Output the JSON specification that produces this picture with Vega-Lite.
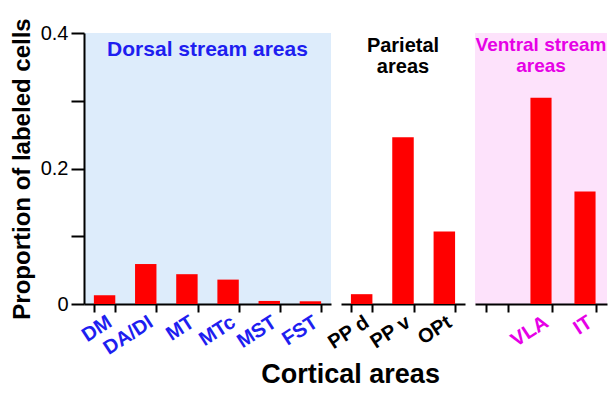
{
  "$schema": "https://vega.github.io/schema/vega-lite/v6.json",
  "background": "white",
  "padding": {"left": 10, "top": 17, "right": 5, "bottom": 0},
  "bounds": "flush",
  "title": {"text": "Cortical areas", "orient": "bottom", "anchor": "middle", "font": "Liberation Sans", "fontSize": 27, "fontWeight": "bold", "color": "black", "dx": 42, "offset": 4},
  "datasets": {
    "bars": [
      {"area": "DM", "value": 0.013, "group": "dorsal"},
      {"area": "DA/DI", "value": 0.059, "group": "dorsal"},
      {"area": "MT", "value": 0.044, "group": "dorsal"},
      {"area": "MTc", "value": 0.036, "group": "dorsal"},
      {"area": "MST", "value": 0.0045, "group": "dorsal"},
      {"area": "FST", "value": 0.004, "group": "dorsal"},
      {"area": "PP d", "value": 0.0145, "group": "parietal"},
      {"area": "PP v", "value": 0.246, "group": "parietal"},
      {"area": "OPt", "value": 0.107, "group": "parietal"},
      {"area": "VLA", "value": 0.3045, "group": "ventral"},
      {"area": "IT", "value": 0.166, "group": "ventral"}
    ]
  },
  "data": {"name": "bars"},
  "spacing": 10,
  "config": {
    "view": {"stroke": null},
    "axis": {
      "grid": false,
      "domainColor": "black",
      "tickColor": "black",
      "domainWidth": 2,
      "tickWidth": 2,
      "labelFont": "Liberation Sans",
      "titleFont": "Liberation Sans"
    },
    "text": {"font": "Liberation Sans"}
  },
  "hconcat": [
    {
      "width": 247,
      "height": 271,
      "view": {"fill": "#ddecfb", "stroke": null},
      "resolve": {"scale": {"x": "independent"}, "axis": {"x": "independent"}},
      "layer": [
        {
          "transform": [{"filter": "datum.group === 'dorsal'"}],
          "mark": {"type": "bar", "color": "#ff0000"},
          "encoding": {
            "x": {
              "field": "area", "type": "nominal",
              "scale": {"domain": ["DM", "DA/DI", "MT", "MTc", "MST", "FST"], "paddingInner": 0.48, "paddingOuter": 0.24},
              "axis": {
                "title": null,
                "labelAngle": -33, "labelAlign": "right", "labelBaseline": "middle",
                "labelFontSize": 20, "labelFontWeight": "bold", "labelColor": "#1e1ef0",
                "labelOffset": 5, "labelPadding": 8,
                "tickBand": "extent", "tickSize": 8
              }
            },
            "y": {
              "field": "value", "type": "quantitative",
              "scale": {"domain": [0, 0.4]},
              "axis": {
                "title": "Proportion of labeled cells",
                "titleFontSize": 24, "titleFontWeight": "bold", "titleColor": "black", "titlePadding": 6,
                "values": [0, 0.1, 0.2, 0.3, 0.4],
                "labelExpr": "datum.value == 0 ? '0' : (datum.value == 0.2 || datum.value == 0.4 ? format(datum.value, '.1f') : '')",
                "labelFontSize": 20, "labelColor": "black", "labelPadding": 3,
                "tickSize": 13
              }
            }
          }
        },
        {
          "data": {"values": [{"k": "dorsal", "t": "Dorsal stream areas"}]},
          "mark": {"type": "text", "align": "center", "baseline": "top", "fontSize": 21, "fontWeight": "bold", "color": "#1e1ef0"},
          "encoding": {
            "x": {"field": "k", "type": "nominal", "scale": {"type": "point"}, "axis": null},
            "text": {"field": "t"},
            "y": {"datum": 0.3905}
          }
        }
      ]
    },
    {
      "width": 124,
      "height": 271,
      "resolve": {"scale": {"x": "independent"}, "axis": {"x": "independent"}},
      "layer": [
        {
          "transform": [{"filter": "datum.group === 'parietal'"}],
          "mark": {"type": "bar", "color": "#ff0000"},
          "encoding": {
            "x": {
              "field": "area", "type": "nominal",
              "scale": {"domain": ["PP d", "PP v", "OPt"], "paddingInner": 0.48, "paddingOuter": 0.24},
              "axis": {
                "title": null,
                "labelAngle": -33, "labelAlign": "right", "labelBaseline": "middle",
                "labelFontSize": 20, "labelFontWeight": "bold", "labelColor": "black",
                "labelOffset": 5, "labelPadding": 8,
                "tickBand": "extent", "tickSize": 8
              }
            },
            "y": {"field": "value", "type": "quantitative", "scale": {"domain": [0, 0.4]}, "axis": null}
          }
        },
        {
          "data": {"values": [{"k": "parietal", "t": ["Parietal", "areas"]}]},
          "mark": {"type": "text", "align": "center", "baseline": "top", "fontSize": 20, "fontWeight": "bold", "color": "black", "lineHeight": 21.6},
          "encoding": {
            "x": {"field": "k", "type": "nominal", "scale": {"type": "point"}, "axis": null},
            "text": {"field": "t"},
            "y": {"datum": 0.396}
          }
        }
      ]
    },
    {
      "width": 132,
      "height": 271,
      "view": {"fill": "#fde2fb", "stroke": null},
      "resolve": {"scale": {"x": "independent"}, "axis": {"x": "independent"}},
      "layer": [
        {
          "transform": [{"filter": "datum.group === 'ventral'"}],
          "mark": {"type": "bar", "color": "#ff0000"},
          "encoding": {
            "x": {
              "field": "area", "type": "nominal",
              "scale": {"domain": [" ", "VLA", "IT"], "paddingInner": 0.52, "paddingOuter": 0.26},
              "axis": {
                "title": null,
                "labelAngle": -33, "labelAlign": "right", "labelBaseline": "middle",
                "labelFontSize": 20, "labelFontWeight": "bold", "labelColor": "#e600e6",
                "labelOffset": 5, "labelPadding": 8,
                "tickBand": "extent", "tickSize": 8
              }
            },
            "y": {"field": "value", "type": "quantitative", "scale": {"domain": [0, 0.4]}, "axis": null}
          }
        },
        {
          "data": {"values": [{"k": "ventral", "t": ["Ventral stream", "areas"]}]},
          "mark": {"type": "text", "align": "center", "baseline": "top", "fontSize": 19, "fontWeight": "bold", "color": "#e600e6", "lineHeight": 21.6},
          "encoding": {
            "x": {"field": "k", "type": "nominal", "scale": {"type": "point"}, "axis": null},
            "text": {"field": "t"},
            "y": {"datum": 0.396}
          }
        }
      ]
    }
  ]
}
